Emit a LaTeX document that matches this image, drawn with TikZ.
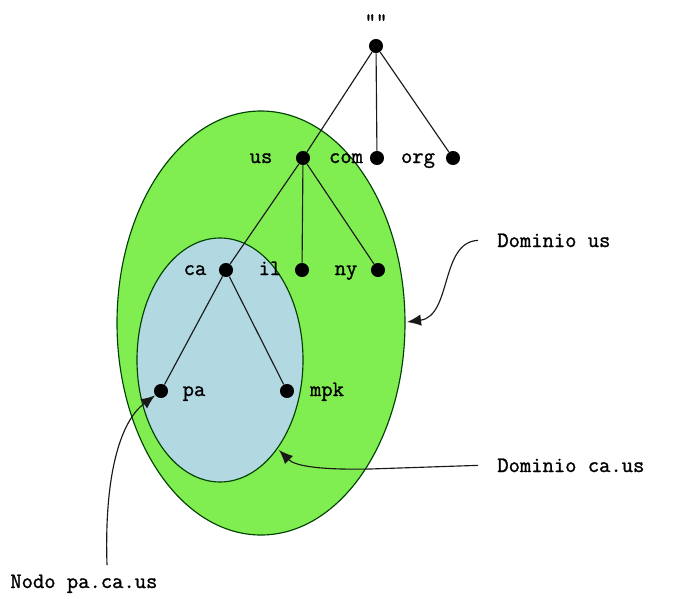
\documentclass[tikz,border=0pt]{standalone}
\usepackage{fontspec}
\newfontfamily\cour[FakeBold=1.2]{Latin Modern Mono}
\usetikzlibrary{arrows.meta}
\definecolor{domus}{RGB}{128,238,80}
\definecolor{domca}{RGB}{178,216,226}
\tikzset{dot/.style={circle, fill=black, inner sep=0pt, minimum size=8pt},
  txt/.style={font=\cour\fontsize{12.5}{14}\selectfont, inner sep=0pt, anchor=base},
  note/.style={txt, anchor=base west, inner xsep=10.8pt},
  edge/.style={draw=black!90, line width=0.65pt},
  pointer/.style={draw=black!90, line width=0.65pt, -{Latex[length=8pt,width=6.5pt]}}}
\begin{document}
\begin{tikzpicture}[x=0.02cm, y=-0.02cm]
\useasboundingbox (0,0) rectangle (687,599);
\draw[black!75!green, line width=0.65pt, fill=domus] (261,323) ellipse (144 and 212);
\draw[black!75!green, line width=0.65pt, fill=domca] (220,360) ellipse (83 and 122);
\node[dot] (root) at (376,46) {};
\node[dot] (us) at (303,158) {};
\node[dot] (com) at (377,158) {};
\node[dot] (org) at (453,158) {};
\node[dot] (ca) at (226,270) {};
\node[dot] (il) at (302,270) {};
\node[dot] (ny) at (378,270) {};
\node[dot] (pa) at (161,391) {};
\node[dot] (mpk) at (287,391) {};
\node[txt] (root-l) at (376,28) {“”};
\node[txt] (us-l) at (261,163) {us};
\node[txt] (com-l) at (346,163) {com};
\node[txt] (org-l) at (418,163) {org};
\node[txt] (ca-l) at (195,275) {ca};
\node[txt] (il-l) at (270,275) {il};
\node[txt] (ny-l) at (346,275) {ny};
\node[txt] (pa-l) at (194,396) {pa};
\node[txt] (mpk-l) at (327,396) {mpk};
\draw[edge] (root) -- (us);
\draw[edge] (root) -- (com);
\draw[edge] (root) -- (org);
\draw[edge] (us) -- (ca);
\draw[edge] (us) -- (il);
\draw[edge] (us) -- (ny);
\draw[edge] (ca) -- (pa);
\draw[edge] (ca) -- (mpk);
\node[note] (dus) at (478,247) {Dominio us};
\node[note] (dca) at (478,472) {Dominio ca.us};
\node[txt, anchor=base west] (npa) at (10,588) {Nodo pa.ca.us};
\coordinate (dus-tip) at (407,322);
\coordinate (dca-tip) at (279,450);
\coordinate (npa-top) at (107,565);
\draw[pointer] (dus.west) .. controls (440,242) and (452,316) .. (dus-tip);
\draw[pointer] (dca.west) -- (370,469) .. controls (320,470) and (295,466) .. (dca-tip);
\draw[pointer] (npa-top) .. controls (104,470) and (122,420) .. (pa);
\end{tikzpicture}
\end{document}
